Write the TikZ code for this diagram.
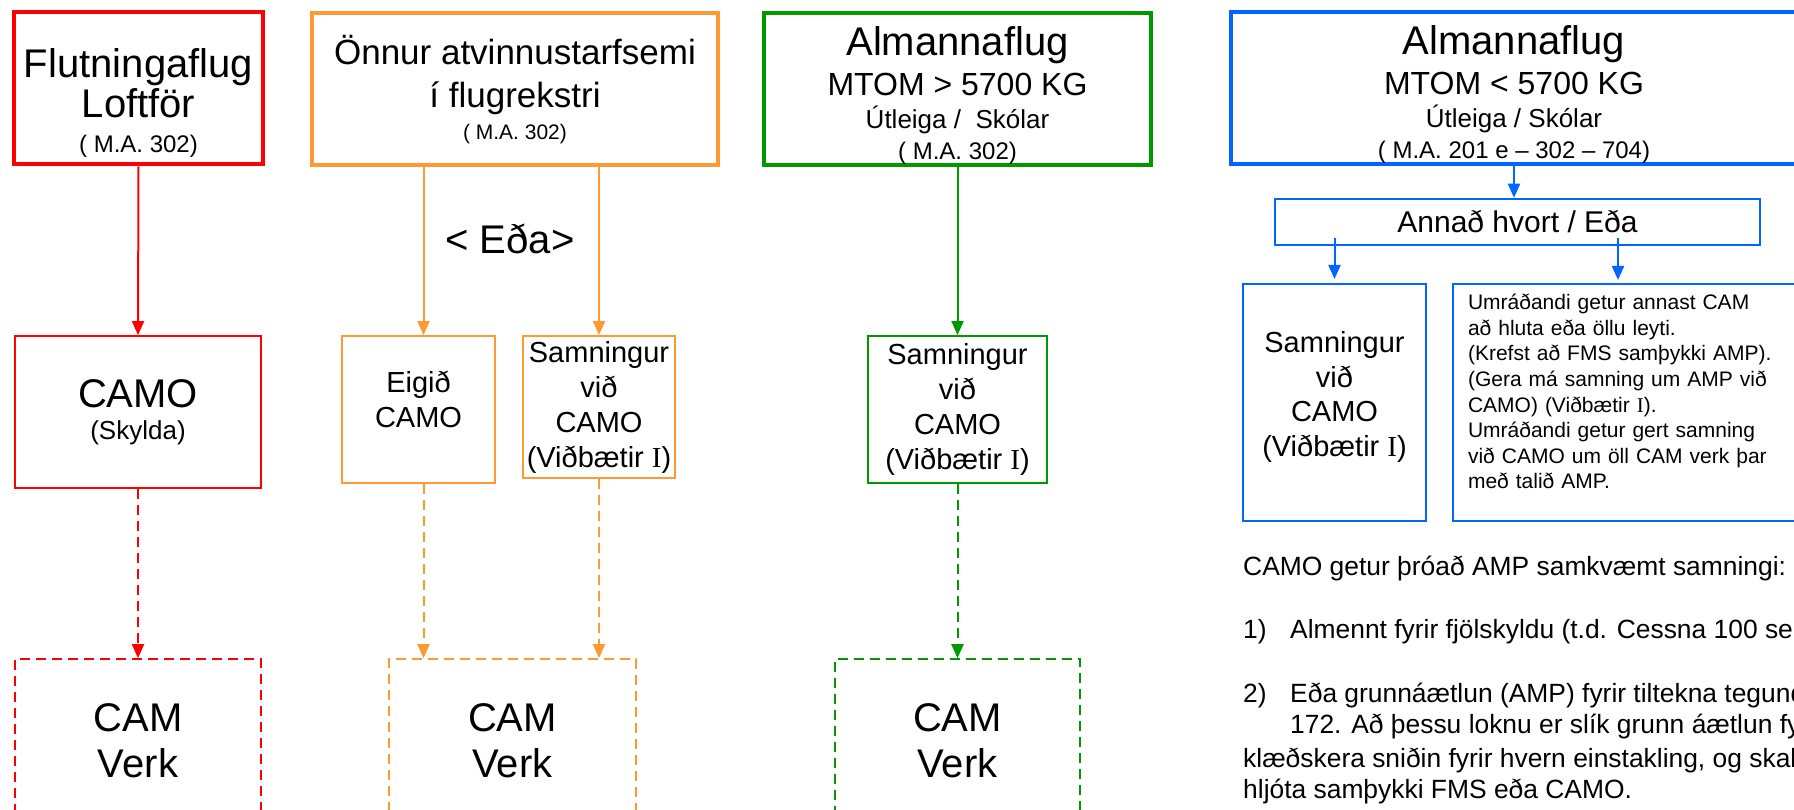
\documentclass[tikz,border=0pt]{standalone}
\usepackage{fontspec}
\setmainfont{Liberation Sans}
\newfontfamily\romanI{Liberation Serif}
\usetikzlibrary{arrows.meta,positioning}

\definecolor{flred}{RGB}{255,0,0}
\definecolor{florange}{RGB}{255,153,51}
\definecolor{flgreen}{RGB}{0,153,0}
\definecolor{flblue}{RGB}{0,102,255}

\newcommand{\fsz}[2]{\fontsize{#1}{#2}\selectfont}
\newcommand{\vI}{{\romanI I}}

\tikzset{
  topbox/.style={draw=#1, line width=4pt, inner sep=0pt, align=center, minimum height=152pt},
  midbox/.style={draw=#1, line width=1.8pt, inner sep=0pt, align=center},
  cambox/.style={draw=#1, line width=1.6pt, dash pattern=on 10pt off 6pt, inner sep=0pt,
    align=center, minimum height=163pt, font=\fsz{40}{40}},
  arr/.style={#1, line width=2pt, -{Triangle[length=14pt,width=12pt]}},
  darr/.style={arr=#1, dash pattern=on 10pt off 6pt},
  txt/.style={anchor=base west, inner sep=0pt, font=\fsz{26.4}{32}},
}

\begin{document}
\begin{tikzpicture}[x=1pt,y=-1pt]
    \useasboundingbox (0,0) rectangle (1794,810);
    \clip (0,0) rectangle (1794,810);
    \fill[white] (0,0) rectangle (1794,810);

    % Flutningaflug (red)
    \node[topbox=flred, minimum width=249pt, font=\fsz{40}{40}] (flutn) at (138.5,88.5)
        {\rule{0pt}{57pt}Flutningaflug\\Loftför\\[-5pt]{\fsz{24}{24}( M.A. 302)}};
    \node[midbox=flred, minimum width=246pt, minimum height=152pt, font=\fsz{40}{40}] (camor) at (138,412)
        {CAMO\\[-8pt]{\fsz{26}{26}(Skylda)}};
    \node[cambox=flred, minimum width=246pt] (camr) at (138,740.5) {CAM\\[6pt]Verk};
    \draw[arr=flred] (flutn.south) -- (camor.north);
    \draw[darr=flred] (camor.south) -- (camr.north);

    % Önnur atvinnustarfsemi (orange)
    \node[topbox=florange, minimum width=406pt, font=\fsz{35}{43}] (onnur) at (515,89.5)
        {Önnur atvinnustarfsemi\\í flugrekstri\\[-11pt]{\fsz{21}{21}( M.A. 302)}};
    \node[anchor=base, inner sep=0pt, font=\fsz{40}{40}] (eda) at (510,254) {< Eða>};
    \node[midbox=florange, minimum width=153pt, minimum height=147pt, font=\fsz{29}{35}] (eigid) at (418.5,409.5)
        {Eigið\\CAMO\rule[-20pt]{0pt}{0pt}};
    \node[midbox=florange, minimum width=152pt, minimum height=142pt, font=\fsz{29}{35}] (samo) at (599,407)
        {Samningur\\við\\CAMO\\(Viðbætir \vI)};
    \node[cambox=florange, minimum width=247pt] (camo) at (512.5,740.5) {CAM\\[6pt]Verk};
    \coordinate (eigtop) at ([xshift=5pt]eigid.north);
    \coordinate (eigbot) at ([xshift=5pt]eigid.south);
    \draw[arr=florange] (onnur.south -| eigtop) -- (eigtop);
    \draw[arr=florange] (onnur.south -| samo.north) -- (samo.north);
    \draw[darr=florange] (eigbot) -- (eigbot |- camo.north);
    \draw[darr=florange] (samo.south) -- (samo.south |- camo.north);

    % Almannaflug > 5700 (green)
    \node[topbox=flgreen, minimum width=387pt, font=\fsz{40}{40}] (almg) at (957.5,89)
        {\rule{0pt}{41pt}Almannaflug\\{\fsz{32}{32}MTOM > 5700 KG}\\[-7pt]{\fsz{26}{26}Útleiga /\ \ Skólar}\\[-9pt]{\fsz{24}{24}( M.A. 302)}};
    \node[midbox=flgreen, minimum width=179pt, minimum height=147pt, font=\fsz{29}{35}] (samg) at (957.5,409.5)
        {Samningur\\við\\CAMO\\(Viðbætir \vI)};
    \node[cambox=flgreen, minimum width=245pt] (camg) at (957.5,740.5) {CAM\\[6pt]Verk};
    \draw[arr=flgreen] (almg.south) -- (samg.north);
    \draw[darr=flgreen] (samg.south) -- (camg.north);

    % Almannaflug < 5700 (blue)
    \node[topbox=flblue, minimum width=566pt, font=\fsz{40}{40}] (almb) at (1514,88)
        {\rule{0pt}{41pt}Almannaflug\\{\fsz{32}{32}MTOM < 5700 KG}\\[-7pt]{\fsz{26}{26}Útleiga / Skólar}\\[-9pt]{\fsz{24}{24}( M.A. 201 e – 302 – 704)}};
    \node[draw=flblue, line width=2.5pt, minimum width=485pt, minimum height=46pt, inner sep=0pt,
        font=\fsz{30}{30}] (annad) at (1517.5,222) {Annað hvort / Eða};
    \node[midbox=flblue, line width=2pt, minimum width=183pt, minimum height=237pt, font=\fsz{29}{34.5}] (sambl) at (1334.5,402.5)
        {Samningur\\við\\CAMO\\(Viðbætir \vI)\rule[-17pt]{0pt}{0pt}};
    \node[draw=flblue, line width=2pt, minimum width=400pt, minimum height=237pt, inner xsep=15pt, inner ysep=0pt,
        text width=370pt, align=left, font=\fsz{21}{25.6}] (umrad) at (1653,402.5)
        {Umráðandi getur annast CAM\\að hluta eða öllu leyti.\\(Krefst að FMS samþykki AMP).\\(Gera má samning um AMP við\\CAMO) (Viðbætir \vI).\\Umráðandi getur gert samning\\við CAMO um öll CAM verk þar\\með talið AMP.\rule[-22pt]{0pt}{0pt}};
    \coordinate (umtop) at (1618,284);
    \draw[arr=flblue] (almb.south) -- (almb.south |- annad.north);
    \draw[arr=flblue, shorten >=4pt] (sambl.north |- annad.south) ++(0,-8) -- (sambl.north);
    \draw[arr=flblue, shorten >=4pt] (umtop |- annad.south) ++(0,-8) -- (umtop);

    % AMP text
    \node[txt] (ampa) at (1243,575) {CAMO getur þróað AMP samkvæmt samningi:};
    \node[txt] (n1) at (1243,638) {1)};
    \node[txt] (l1) at (1290,638) {Almennt fyrir fjölskyldu (t.d. Cessna 100 se};
    \node[txt] (n2) at (1243,702) {2)};
    \node[txt] (l2) at (1290,702) {Eða grunnáætlun (AMP) fyrir tiltekna tegund};
    \node[txt] (l3) at (1290,733) {172. Að þessu loknu er slík grunn áætlun fyrir};
    \node[txt] (l4) at (1243,767) {klæðskera sniðin fyrir hvern einstakling, og skal};
    \node[txt] (l5) at (1243,798) {hljóta samþykki FMS eða CAMO.};
\end{tikzpicture}
\end{document}
